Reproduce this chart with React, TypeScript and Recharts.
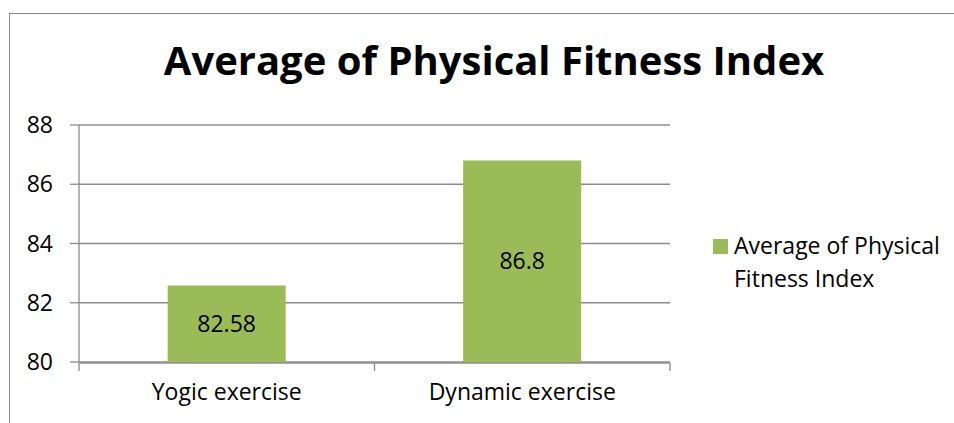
import { BarChart, Bar, XAxis, YAxis, CartesianGrid, Legend, LabelList } from 'recharts';

// chart data
const categories = ['Yogic exercise', 'Dynamic exercise'];
const fitnessValues = [82.58, 86.8];
const yTicks = [80, 82, 84, 86, 88];
const seriesName = 'Average of Physical Fitness Index';
const titleText = 'Average of Physical Fitness Index';

const data = categories.map((name, i) => ({ name, value: fitnessValues[i], slot: i + 0.5 }));

const FONT = '"Open Sans", Lato, sans-serif';
const GREEN = '#9bbb59';
const GRID = '#8c8c8c';

const renderLegend = () => (
  <div style={{ display: 'flex', alignItems: 'flex-start', fontFamily: FONT, fontSize: 23, color: '#000' }}>
    <span style={{ width: 15, height: 15, background: GREEN, marginTop: 7, marginRight: 6, flex: 'none' }} />
    <span style={{ width: 215, lineHeight: '33px', marginTop: -3 }}>{seriesName}</span>
  </div>
);

// boundary tick marks only, no text
const emptyTick = () => <g />;

export default function App() {
  return (
    <div style={{ position: 'absolute', left: 0, top: 0, width: 954, height: 423, background: '#fff', overflow: 'hidden' }}>
      <div style={{ position: 'absolute', left: 9, top: 13, right: -2, bottom: -2, borderTop: '1px solid #888', borderLeft: '1px solid #888' }} />
      <div
        style={{
          position: 'absolute',
          left: 0,
          width: 988,
          top: 36,
          textAlign: 'center',
          fontFamily: FONT,
          fontWeight: 700,
          fontSize: 40,
          lineHeight: '48px',
          color: '#000',
        }}
      >
        {titleText}
      </div>
      <BarChart
        width={954}
        height={423}
        data={data}
        margin={{ top: 125, right: 284, bottom: 0, left: 0 }}
        barCategoryGap="30%"
        style={{ position: 'absolute', left: 0, top: 0 }}
      >
        <CartesianGrid vertical={false} stroke={GRID} strokeWidth={1.3} />
        <XAxis
          dataKey="name"
          height={1}
          axisLine={false}
          tickLine={false}
          tickMargin={16}
          tick={{ fill: '#000', fontSize: 23, fontFamily: FONT }}
        />
        <XAxis
          xAxisId="bounds"
          type="number"
          dataKey="slot"
          domain={[0, 2]}
          ticks={[0, 1, 2]}
          allowDataOverflow
          height={60}
          tick={emptyTick}
          tickSize={8}
          stroke={GRID}
          strokeWidth={1.3}
        />
        <YAxis
          domain={[80, 88]}
          ticks={yTicks}
          width={79}
          tickSize={9}
          tickMargin={17}
          stroke={GRID}
          strokeWidth={1.3}
          tick={{ fill: '#000', fontSize: 23, fontFamily: FONT }}
        />
        <Legend
          layout="vertical"
          align="center"
          verticalAlign="middle"
          content={renderLegend}
          wrapperStyle={{ left: 713, top: 232, width: 240 }}
        />
        <Bar dataKey="value" name={seriesName} fill={GREEN} isAnimationActive={false}>
          <LabelList dataKey="value" position="center" fill="#000" fontSize={23} fontFamily={FONT} />
        </Bar>
      </BarChart>
    </div>
  );
}
